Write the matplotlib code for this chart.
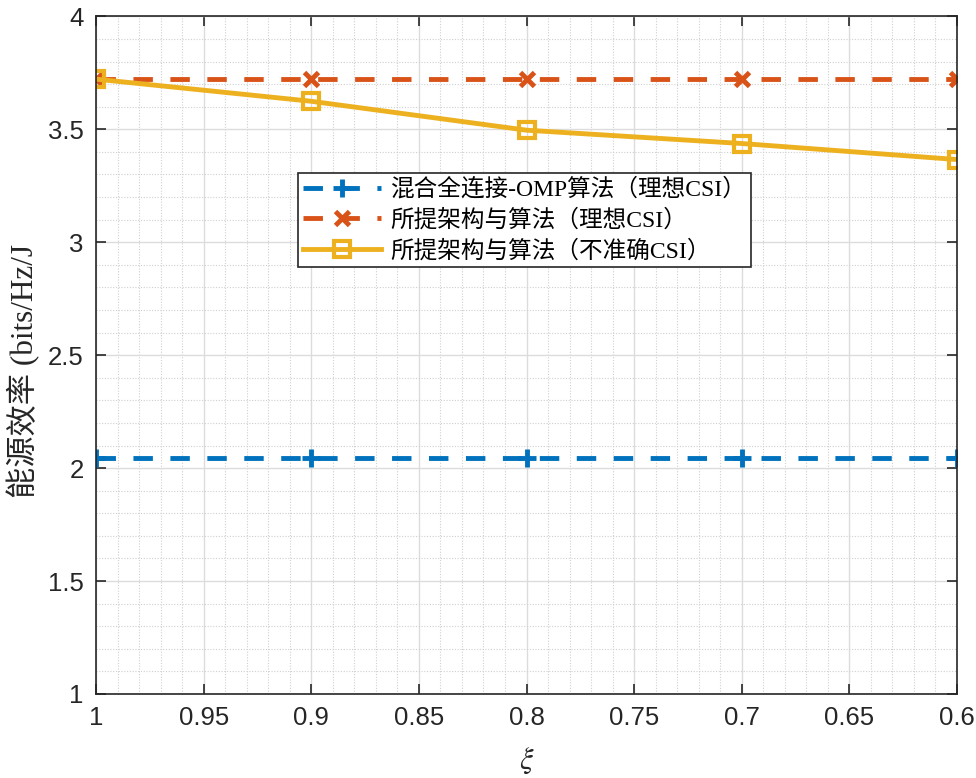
import numpy as np
import matplotlib
matplotlib.use("Agg")
import matplotlib.pyplot as plt
from matplotlib.ticker import MultipleLocator, FixedLocator

# === dados ===
xi = [1.0, 0.9, 0.8, 0.7, 0.6]
ee_omp_ideal = [2.045, 2.045, 2.045, 2.045, 2.045]
ee_prop_ideal = [3.722, 3.722, 3.722, 3.722, 3.722]
ee_prop_imperf = [3.722, 3.624, 3.496, 3.437, 3.366]

nomes = ["混合全连接-OMP算法（理想CSI）",
         "所提架构与算法（理想CSI）",
         "所提架构与算法（不准确CSI）"]
xticks = [1.0, 0.95, 0.9, 0.85, 0.8, 0.75, 0.7, 0.65, 0.6]
xtick_labels = ["1", "0.95", "0.9", "0.85", "0.8", "0.75", "0.7", "0.65", "0.6"]
yticks = [1, 1.5, 2, 2.5, 3, 3.5, 4]
ytick_labels = ["1", "1.5", "2", "2.5", "3", "3.5", "4"]

# cores padrao do MATLAB
azul, laranja, amarelo = "#0072BD", "#D95319", "#EDB120"
cinza = "#262626"
serif_cjk = ["Liberation Serif", "Noto Sans CJK SC"]
plt.rcParams["mathtext.fontset"] = "stix"

fig = plt.figure(figsize=(9.76, 7.78), dpi=100)
ax = fig.add_axes([0.0984, 0.108, 0.8821, 0.871])

ax.plot(xi, ee_omp_ideal, color=azul, lw=3.5, dashes=(4, 3.6),
        marker="+", ms=13, mew=3.5, label=nomes[0])
ax.plot(xi, ee_prop_ideal, color=laranja, lw=3.5, dashes=(4, 3.6),
        marker="x", ms=10, mew=3.5, label=nomes[1])
ax.plot(xi, ee_prop_imperf, color=amarelo, lw=3.5,
        marker="s", ms=11, mew=3, mfc="none", label=nomes[2])

ax.set_xlim(1, 0.6)
ax.set_ylim(1, 4)
ax.xaxis.set_major_locator(FixedLocator(xticks))
ax.set_xticklabels(xtick_labels)
ax.yaxis.set_major_locator(FixedLocator(yticks))
ax.set_yticklabels(ytick_labels)
ax.xaxis.set_minor_locator(MultipleLocator(0.01))
ax.yaxis.set_minor_locator(MultipleLocator(0.1))

ax.grid(True, which="major", color="#dcdcdc", lw=1.0, ls="-")
ax.grid(True, which="minor", color="#d0d0d0", lw=0.8, ls=(0, (1, 1.5)))
ax.set_axisbelow(True)

ax.tick_params(which="major", direction="in", length=7, width=1.2,
               top=True, right=True, colors=cinza, labelsize=18.5, pad=9)
ax.tick_params(which="minor", length=0, top=True, right=True)
for lbl in ax.get_xticklabels() + ax.get_yticklabels():
    lbl.set_family("Liberation Sans")
for s in ax.spines.values():
    s.set_color(cinza)
    s.set_linewidth(1.2)

ax.set_ylabel("能源效率 (bits/Hz/J", family=serif_cjk, fontsize=22.5, color=cinza)
ax.yaxis.set_label_coords(-0.065, 0.476)
ax.set_xlabel(r"$\xi$", fontsize=22, color=cinza)
ax.xaxis.set_label_coords(0.5, -0.076)

leg = ax.legend(loc="center", bbox_to_anchor=(0.498, 0.699), fancybox=False,
                edgecolor=cinza, framealpha=1, handlelength=3.3, numpoints=1,
                borderpad=0.2, labelspacing=0.35, handletextpad=0.4,
                prop={"family": serif_cjk, "size": 17})
leg.get_frame().set_linewidth(1.2)

plt.savefig("out.png", dpi=100)
